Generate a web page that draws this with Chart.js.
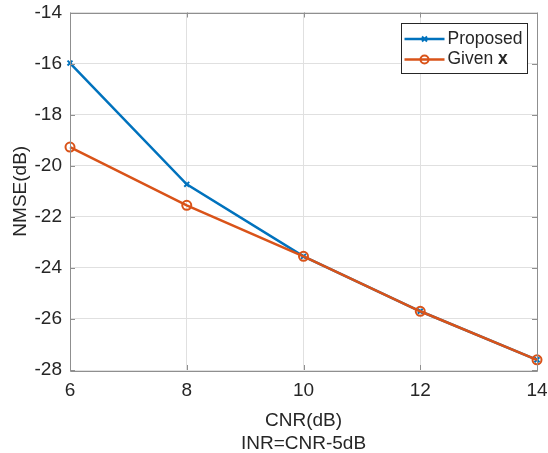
<!DOCTYPE html>
<html>
<head>
<meta charset="utf-8">
<script src="https://cdn.jsdelivr.net/npm/chart.js@4/dist/chart.umd.min.js"></script>
<style>
  html, body { margin: 0; padding: 0; background: #fff; }
  #wrap { width: 548px; height: 453px; position: relative; }
</style>
</head>
<body>
<div id="wrap"><canvas id="chart"></canvas></div>
<script>
// chart values
const cnr = [6, 8, 10, 12, 14];
const proposed = [-15.98, -20.73, -23.55, -25.70, -27.60];
const givenX = [-19.27, -21.55, -23.55, -25.70, -27.60];
const xTicks = [6, 8, 10, 12, 14];
const yTicks = [-28, -26, -24, -22, -20, -18, -16, -14];

const BLUE = '#0072BD';
const ORANGE = '#D95319';
const TEXT = '#262626';
const AXIS = '#8f8f8f';
const GRID = '#e0e0e0';
const FONT = "'Liberation Sans', Arial, Helvetica, sans-serif";

// box, inward ticks and the legend (MATLAB style)
const matlabFrame = {
    id: 'matlabFrame',
    afterDatasetsDraw(chart) {
        const ctx = chart.ctx;
        const a = chart.chartArea;
        const xs = chart.scales.x, ys = chart.scales.y;
        ctx.save();
        ctx.strokeStyle = AXIS;
        ctx.lineWidth = 1;
        ctx.beginPath();
        ctx.rect(Math.round(a.left) + 0.5, Math.round(a.top) + 0.5,
                 Math.round(a.right - a.left), Math.round(a.bottom - a.top));
        ctx.stroke();
        ctx.beginPath();
        xTicks.forEach(v => {
            const px = Math.round(xs.getPixelForValue(v)) + 0.5;
            ctx.moveTo(px, a.bottom); ctx.lineTo(px, a.bottom - 5);
            ctx.moveTo(px, a.top); ctx.lineTo(px, a.top + 5);
        });
        yTicks.forEach(v => {
            const py = Math.round(ys.getPixelForValue(v)) + 0.5;
            ctx.moveTo(a.left, py); ctx.lineTo(a.left + 5, py);
            ctx.moveTo(a.right, py); ctx.lineTo(a.right - 5, py);
        });
        ctx.stroke();

        // legend
        const w = 126, h = 50;
        const bx = Math.round(a.right - 10 - w) + 0.5;
        const by = Math.round(a.top + 10) + 0.5;
        ctx.fillStyle = '#fff';
        ctx.fillRect(bx, by, w, h);
        ctx.strokeStyle = TEXT;
        ctx.strokeRect(bx, by, w, h);

        const rows = [
            {y: by + 15.5, color: BLUE, marker: 'x', label: 'Proposed'},
            {y: by + 36, color: ORANGE, marker: 'o', label: 'Given '}
        ];
        ctx.textBaseline = 'middle';
        rows.forEach(r => {
            const x0 = bx + 3, x1 = bx + 43, xm = (x0 + x1) / 2;
            ctx.strokeStyle = r.color;
            ctx.lineWidth = 2.5;
            ctx.beginPath();
            ctx.moveTo(x0, r.y); ctx.lineTo(x1, r.y);
            ctx.stroke();
            ctx.lineWidth = 2;
            ctx.beginPath();
            if (r.marker === 'x') {
                ctx.moveTo(xm - 2.5, r.y - 2.5); ctx.lineTo(xm + 2.5, r.y + 2.5);
                ctx.moveTo(xm - 2.5, r.y + 2.5); ctx.lineTo(xm + 2.5, r.y - 2.5);
            } else {
                ctx.arc(xm, r.y, 4, 0, Math.PI * 2);
            }
            ctx.stroke();
            ctx.fillStyle = TEXT;
            ctx.font = '17.5px ' + FONT;
            ctx.fillText(r.label, bx + 46, r.y);
            if (r.marker === 'o') {
                const tw = ctx.measureText(r.label).width;
                ctx.font = 'bold 17.5px ' + FONT;
                ctx.fillText('x', bx + 46 + tw, r.y);
            }
        });
        ctx.restore();
    }
};

const ctx = document.getElementById('chart').getContext('2d');
new Chart(ctx, {
    type: 'line',
    data: {
        datasets: [
            {
                label: 'Proposed',
                data: cnr.map((x, i) => ({x: x, y: proposed[i]})),
                borderColor: BLUE,
                borderWidth: 2.5,
                pointStyle: 'crossRot',
                pointRadius: 3.5,
                pointBorderWidth: 2,
                pointBorderColor: BLUE,
                pointBackgroundColor: 'rgba(0,0,0,0)',
                tension: 0,
                clip: false,
                order: 1
            },
            {
                label: 'Given x',
                data: cnr.map((x, i) => ({x: x, y: givenX[i]})),
                borderColor: ORANGE,
                borderWidth: 2.5,
                pointStyle: 'circle',
                pointRadius: 4.5,
                pointBorderWidth: 2,
                pointBorderColor: ORANGE,
                pointBackgroundColor: 'rgba(0,0,0,0)',
                tension: 0,
                clip: false,
                order: 0
            }
        ]
    },
    options: {
        responsive: true,
        maintainAspectRatio: false,
        animation: false,
        layout: { padding: { left: 0, top: 12.5, right: 11, bottom: 0 } },
        plugins: {
            legend: { display: false },
            tooltip: { enabled: false }
        },
        scales: {
            x: {
                type: 'linear',
                min: 6, max: 14,
                afterFit: s => { s.height = 83; },
                afterBuildTicks: s => { s.ticks = xTicks.map(v => ({value: v})); },
                border: { display: false },
                // transparent outer tick marks only push the labels away from the axis
                grid: { color: GRID, drawTicks: true, tickLength: 9, tickColor: 'rgba(0,0,0,0)' },
                ticks: { color: TEXT, padding: 0, font: { family: FONT, size: 19 } },
                title: {
                    display: true,
                    text: ['CNR(dB)', 'INR=CNR-5dB'],
                    color: TEXT,
                    font: { family: FONT, size: 19, lineHeight: 1.25 },
                    padding: { top: 0, bottom: -3 }
                }
            },
            y: {
                min: -28, max: -14,
                afterFit: s => { s.width = 70; },
                afterBuildTicks: s => { s.ticks = yTicks.map(v => ({value: v})); },
                border: { display: false },
                grid: { color: GRID, drawTicks: true, tickLength: 8, tickColor: 'rgba(0,0,0,0)' },
                ticks: { color: TEXT, padding: 0, font: { family: FONT, size: 19 } },
                title: {
                    display: true,
                    text: 'NMSE(dB)',
                    color: TEXT,
                    font: { family: FONT, size: 19, lineHeight: 1.25 },
                    padding: { top: 9, bottom: 0 }
                }
            }
        }
    },
    plugins: [matlabFrame]
});
</script>
</body>
</html>
